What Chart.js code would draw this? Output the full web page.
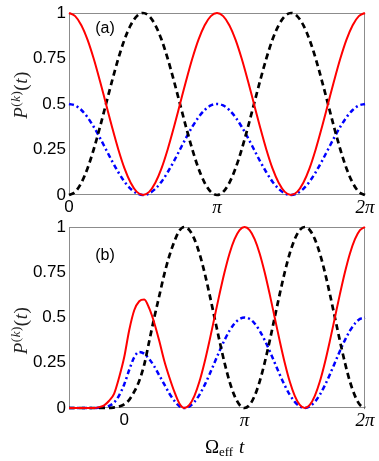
<!DOCTYPE html>
<html>
<head>
<meta charset="utf-8">
<script src="https://cdn.jsdelivr.net/npm/chart.js@4.4.1/dist/chart.umd.min.js"></script>
<style>
    body { margin: 0; background: #fff; }
    #wrap { position: relative; width: 379px; height: 461px; }
    .panel { position: absolute; left: 0; }
</style>
</head>
<body>
<div id="wrap">
    <canvas id="chart-a" class="panel" width="379" height="225" style="top:0"></canvas>
    <canvas id="chart-b" class="panel" width="379" height="251" style="top:210px"></canvas>
</div>
<script>
// time axis in units of pi, sampled every pi/24
const stepA = 1 / 24;
const startB = -11 / 24;

// panel (a): 0 .. 2pi
const redA = [1, 0.983, 0.933, 0.854, 0.75, 0.629, 0.5, 0.371, 0.25, 0.146, 0.067, 0.017, 0,
    0.017, 0.067, 0.146, 0.25, 0.371, 0.5, 0.629, 0.75, 0.854, 0.933, 0.983, 1,
    0.983, 0.933, 0.854, 0.75, 0.629, 0.5, 0.371, 0.25, 0.146, 0.067, 0.017, 0,
    0.017, 0.067, 0.146, 0.25, 0.371, 0.5, 0.629, 0.75, 0.854, 0.933, 0.983, 1];
const blackA = [0, 0.017, 0.067, 0.146, 0.25, 0.371, 0.5, 0.629, 0.75, 0.854, 0.933, 0.983, 1,
    0.983, 0.933, 0.854, 0.75, 0.629, 0.5, 0.371, 0.25, 0.146, 0.067, 0.017, 0,
    0.017, 0.067, 0.146, 0.25, 0.371, 0.5, 0.629, 0.75, 0.854, 0.933, 0.983, 1,
    0.983, 0.933, 0.854, 0.75, 0.629, 0.5, 0.371, 0.25, 0.146, 0.067, 0.017, 0];
const blueA = [0.5, 0.492, 0.467, 0.427, 0.375, 0.315, 0.25, 0.185, 0.125, 0.073, 0.034, 0.009, 0,
    0.009, 0.034, 0.073, 0.125, 0.185, 0.25, 0.315, 0.375, 0.427, 0.467, 0.492, 0.5,
    0.492, 0.467, 0.427, 0.375, 0.315, 0.25, 0.185, 0.125, 0.073, 0.034, 0.009, 0,
    0.009, 0.034, 0.073, 0.125, 0.185, 0.25, 0.315, 0.375, 0.427, 0.467, 0.492, 0.5];

// panel (b): -11pi/24 .. 2pi
const redB = [0, 0, 0, 0, 0, 0, 0.005, 0.015, 0.04, 0.08, 0.17,
    0.28, 0.43, 0.54, 0.59, 0.60, 0.55, 0.47, 0.37, 0.26, 0.17, 0.09, 0.025, 0,
    0.017, 0.067, 0.146, 0.25, 0.371, 0.5, 0.629, 0.75, 0.854, 0.933, 0.983, 1,
    0.983, 0.933, 0.854, 0.75, 0.629, 0.5, 0.371, 0.25, 0.146, 0.067, 0.017, 0,
    0.017, 0.067, 0.146, 0.25, 0.371, 0.5, 0.629, 0.75, 0.854, 0.933, 0.983, 1];
const blackB = [0, 0, 0, 0, 0, 0, 0, 0, 0, 0.003, 0.008,
    0.02, 0.045, 0.09, 0.15, 0.24, 0.37, 0.5, 0.62, 0.74, 0.84, 0.92, 0.98, 1,
    0.983, 0.933, 0.854, 0.75, 0.629, 0.5, 0.371, 0.25, 0.146, 0.067, 0.017, 0,
    0.017, 0.067, 0.146, 0.25, 0.371, 0.5, 0.629, 0.75, 0.854, 0.933, 0.983, 1,
    0.983, 0.933, 0.854, 0.75, 0.629, 0.5, 0.371, 0.25, 0.146, 0.067, 0.017, 0];
const blueB = [0, 0, 0, 0, 0, 0, 0.002, 0.005, 0.012, 0.03, 0.07,
    0.13, 0.21, 0.28, 0.31, 0.30, 0.27, 0.23, 0.18, 0.13, 0.08, 0.04, 0.01, 0,
    0.009, 0.034, 0.073, 0.125, 0.185, 0.25, 0.315, 0.375, 0.427, 0.467, 0.492, 0.5,
    0.492, 0.467, 0.427, 0.375, 0.315, 0.25, 0.185, 0.125, 0.073, 0.034, 0.009, 0,
    0.009, 0.034, 0.073, 0.125, 0.185, 0.25, 0.315, 0.375, 0.427, 0.467, 0.492, 0.5];

const xTicks = [0, 1, 2];
const xTickLabels = ['0', 'π', '2π'];
const yTicks = [0, 0.25, 0.5, 0.75, 1];
const yTickLabels = ['0', '0.25', '0.5', '0.75', '1'];

function points(values, start) {
    return values.map((v, i) => ({ x: start + i * stepA, y: v }));
}

function makeDatasets(red, black, blue, start) {
    return [{
        data: points(red, start),
        borderColor: '#ff0000',
        borderWidth: 2,
    }, {
        data: points(black, start),
        borderColor: '#000000',
        borderWidth: 2.7,
        borderDash: [6, 4],
    }, {
        data: points(blue, start),
        borderColor: '#0000ff',
        borderWidth: 2.5,
        borderDash: [5, 3, 2, 3],
    }];
}

const framePlugin = {
    id: 'frame',
    beforeDatasetsDraw(chart) {
        const a = chart.chartArea;
        const ctx = chart.ctx;
        ctx.save();
        ctx.strokeStyle = '#8c8c8c';
        ctx.lineWidth = 1;
        ctx.strokeRect(a.left + 0.5, a.top + 0.5, a.right - a.left - 1, a.bottom - a.top - 1);
        ctx.restore();
    },
    afterDraw(chart, args, opts) {
        const a = chart.chartArea;
        const ctx = chart.ctx;
        ctx.save();
        ctx.fillStyle = '#000';
        // panel letter
        ctx.font = '16px "Liberation Sans", Arial';
        ctx.textAlign = 'center';
        ctx.textBaseline = 'middle';
        ctx.fillText(opts.letter, 105, a.top + opts.letterDy);

        // y label P^(k)(t), rotated
        ctx.fillStyle = '#222';
        const parts = [
            { t: 'P', f: 'italic 19px "Liberation Serif"', dy: 0 },
            { t: '(', f: '13px "Liberation Serif"', dy: -7 },
            { t: 'k', f: 'italic 13px "Liberation Serif"', dy: -7 },
            { t: ')', f: '13px "Liberation Serif"', dy: -7 },
            { t: '(', f: '19px "Liberation Serif"', dy: 0 },
            { t: 't', f: 'italic 19px "Liberation Serif"', dy: 0 },
            { t: ')', f: '19px "Liberation Serif"', dy: 0 }
        ];
        let total = 0;
        parts.forEach(p => { ctx.font = p.f; p.w = ctx.measureText(p.t).width; total += p.w + 0.5; });
        ctx.translate(27, (a.top + a.bottom) / 2 - opts.labelShift);
        ctx.rotate(-Math.PI / 2);
        ctx.textAlign = 'left';
        ctx.textBaseline = 'alphabetic';
        let x = -total / 2;
        parts.forEach(p => { ctx.font = p.f; ctx.fillText(p.t, x, p.dy); x += p.w + 0.5; });
        ctx.restore();

        if (opts.xTitle) {
            ctx.save();
            ctx.fillStyle = '#000';
            ctx.textBaseline = 'alphabetic';
            ctx.textAlign = 'left';
            const base = a.bottom + 45;
            ctx.font = '19px "Liberation Serif"';
            ctx.fillText('Ω', 205, base);
            ctx.font = '13px "Liberation Serif"';
            ctx.fillText('eff', 219, base + 3);
            ctx.font = 'italic 19px "Liberation Serif"';
            ctx.fillText('t', 239, base);
            ctx.restore();
        }
    }
};

function buildChart(id, datasets, xMin, padTop, xHeight, extra) {
    const ctx = document.getElementById(id).getContext('2d');
    return new Chart(ctx, {
        type: 'line',
        data: { datasets: datasets },
        plugins: [framePlugin],
        options: {
            responsive: false,
            animation: false,
            layout: { padding: { top: padTop, right: 14, left: 0, bottom: 0 } },
            elements: {
                point: { radius: 0 },
                line: { cubicInterpolationMode: 'monotone', fill: false }
            },
            datasets: { line: { clip: false } },
            scales: {
                x: {
                    type: 'linear',
                    min: xMin,
                    max: 2,
                    grid: { display: false, drawTicks: false, tickLength: 0 },
                    border: { display: false },
                    afterBuildTicks(scale) {
                        scale.ticks = xTicks.map(v => ({ value: v }));
                    },
                    afterFit(scale) {
                        scale.height = xHeight;
                        scale.paddingLeft = 0;
                        scale.paddingRight = 0;
                    },
                    ticks: {
                        color: '#000',
                        padding: 2,
                        maxRotation: 0,
                        autoSkip: false,
                        callback: (v) => xTickLabels[xTicks.indexOf(v)],
                        font: (c) => (c.tick && c.tick.value === 0)
                            ? { family: '"Liberation Sans", Arial', size: 17 }
                            : { family: '"Liberation Serif"', size: 19, style: 'italic' }
                    }
                },
                y: {
                    min: 0,
                    max: 1,
                    grid: { display: false, drawTicks: false, tickLength: 0 },
                    border: { display: false },
                    afterBuildTicks(scale) {
                        scale.ticks = yTicks.map(v => ({ value: v }));
                    },
                    afterFit(scale) {
                        scale.width = 69;
                        scale.paddingTop = 0;
                        scale.paddingBottom = 0;
                    },
                    ticks: {
                        color: '#000',
                        padding: 3,
                        autoSkip: false,
                        callback: (v) => yTickLabels[yTicks.indexOf(v)],
                        font: { family: '"Liberation Sans", Arial', size: 17 }
                    }
                }
            },
            plugins: {
                legend: { display: false },
                tooltip: { enabled: false },
                frame: extra
            }
        }
    });
}

buildChart('chart-a', makeDatasets(redA, blackA, blueA, 0), 0, 13, 30,
    { letter: '(a)', letterDy: 16, labelShift: 9, xTitle: false });
buildChart('chart-b', makeDatasets(redB, blackB, blueB, startB), startB, 17, 53,
    { letter: '(b)', letterDy: 29, labelShift: -13, xTitle: true });
</script>
</body>
</html>
